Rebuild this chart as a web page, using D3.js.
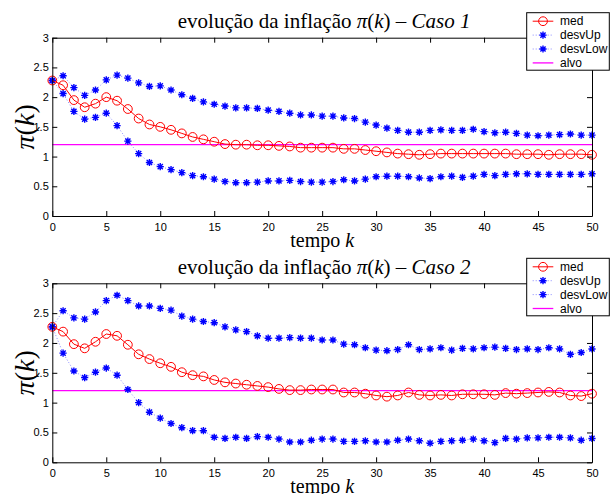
<!DOCTYPE html>
<html>
<head>
<meta charset="utf-8">
<script src="https://cdn.jsdelivr.net/npm/d3@7"></script>
<style>
  body { margin:0; background:#fff; }
  #chart { width:610px; height:494px; }
  .tick text { font-family: "Liberation Sans", Arial, sans-serif; font-size:11px; fill:#000; }
  .serif { font-family: "Liberation Serif", "Times New Roman", serif; fill:#000; }
</style>
</head>
<body>
<div id="chart"></div>
<script>
// tempo k
var tempo = d3.range(0, 51)

// Caso 1
var med1 = [2.28,2.20,1.95,1.83,1.89,2.00,1.94,1.80,1.64,1.54,1.50,1.45,1.39,1.33,1.29,1.25,1.21,1.20,1.20,1.19,1.19,1.18,1.17,1.15,1.15,1.15,1.15,1.13,1.13,1.11,1.09,1.07,1.05,1.04,1.03,1.04,1.05,1.05,1.05,1.05,1.05,1.05,1.05,1.04,1.04,1.04,1.03,1.04,1.04,1.04,1.03]
var desvUp1 = [2.28,2.36,2.16,2.03,2.12,2.29,2.37,2.32,2.24,2.18,2.19,2.12,2.04,1.98,1.92,1.88,1.85,1.82,1.82,1.81,1.78,1.76,1.73,1.70,1.70,1.68,1.68,1.65,1.64,1.58,1.53,1.48,1.44,1.41,1.41,1.44,1.45,1.44,1.44,1.46,1.42,1.40,1.41,1.39,1.36,1.35,1.36,1.37,1.38,1.36,1.36]
var desvLow1 = [2.28,2.06,1.76,1.63,1.66,1.73,1.52,1.26,1.05,0.90,0.83,0.78,0.73,0.68,0.66,0.62,0.58,0.56,0.56,0.57,0.59,0.59,0.60,0.58,0.57,0.57,0.58,0.61,0.59,0.62,0.66,0.67,0.67,0.66,0.64,0.63,0.66,0.67,0.65,0.67,0.70,0.68,0.70,0.71,0.71,0.70,0.70,0.70,0.70,0.70,0.71]

// Caso 2
var med2 = [2.27,2.19,1.98,1.91,2.02,2.15,2.12,1.97,1.81,1.73,1.66,1.60,1.51,1.46,1.44,1.38,1.34,1.32,1.30,1.28,1.26,1.23,1.21,1.21,1.22,1.22,1.22,1.17,1.17,1.15,1.12,1.10,1.12,1.17,1.13,1.12,1.13,1.12,1.14,1.14,1.14,1.13,1.16,1.15,1.16,1.17,1.18,1.17,1.12,1.11,1.15]
var desvUp2 = [2.27,2.54,2.42,2.40,2.52,2.71,2.80,2.71,2.62,2.62,2.58,2.55,2.45,2.40,2.36,2.34,2.27,2.22,2.19,2.12,2.08,2.08,2.09,2.08,2.08,2.05,2.05,1.98,1.97,1.92,1.88,1.87,1.89,1.97,1.89,1.90,1.92,1.88,1.91,1.90,1.92,1.93,1.91,1.89,1.90,1.89,1.92,1.90,1.81,1.84,1.90]
var desvLow2 = [2.27,1.83,1.53,1.42,1.51,1.58,1.46,1.22,1.00,0.84,0.74,0.65,0.58,0.53,0.53,0.42,0.40,0.42,0.40,0.43,0.42,0.39,0.34,0.34,0.37,0.39,0.39,0.35,0.35,0.36,0.34,0.34,0.37,0.39,0.36,0.32,0.35,0.36,0.37,0.39,0.36,0.33,0.40,0.39,0.41,0.41,0.42,0.42,0.41,0.37,0.40]

var alvo = 1.2
var casos = ["Caso 1", "Caso 2"]
var legendNames = ["med", "desvUp", "desvLow", "alvo"]
var xTicks = [0, 5, 10, 15, 20, 25, 30, 35, 40, 45, 50]
var yTicks = [0, 0.5, 1, 1.5, 2, 2.5, 3]

!(function(){
    "use strict"

    var width = 610, height = 494
    var svg = d3.select("#chart").append("svg")
        .attr("width", width).attr("height", height)

    // axes boxes (pixel frames of the two subplots)
    var panels = [
        {top:37.7, bottom:216, caso:casos[0], med:med1, up:desvUp1, low:desvLow1},
        {top:283.3, bottom:462.3, caso:casos[1], med:med2, up:desvUp2, low:desvLow2}
    ]
    var left = 52.3, right = 592

    panels.forEach(drawPanel)

    function star(r) {
        var a = r * 0.72
        return "M"+(-r)+",0L"+r+",0M0,"+(-r)+"L0,"+r+
               "M"+(-a)+","+(-a)+"L"+a+","+a+"M"+(-a)+","+a+"L"+a+","+(-a)
    }

    function drawPanel(p) {
        var x = d3.scaleLinear().domain([0, 50]).range([left, right])
        var y = d3.scaleLinear().domain([0, 3]).range([p.bottom, p.top])
        var g = svg.append("g")

        // alvo
        g.append("path")
            .attr("d", d3.line()([[x(0), y(alvo)], [x(50), y(alvo)]]))
            .attr("stroke", "#ff00ff").attr("stroke-width", 1.3).attr("fill", "none")

        // desvio lines (dotted) + asterisks
        ;[p.up, p.low].forEach(function(s) {
            g.append("path")
                .datum(s)
                .attr("d", d3.line().x(function(d, i){ return x(tempo[i]) }).y(function(d){ return y(d) }))
                .attr("fill", "none")
                .attr("stroke", "#6f6fff")
                .attr("stroke-width", 0.8)
                .attr("stroke-dasharray", "1,2")
            g.selectAll(null)
                .data(s)
                .enter().append("path")
                .attr("transform", function(d, i){ return "translate("+[x(tempo[i]), y(d)]+")" })
                .attr("d", star(3.6))
                .attr("stroke", "#0000ff").attr("stroke-width", 1.4).attr("fill", "none")
        })

        // med
        g.append("path")
            .datum(p.med)
            .attr("d", d3.line().x(function(d, i){ return x(tempo[i]) }).y(function(d){ return y(d) }))
            .attr("fill", "none").attr("stroke", "#ff0000").attr("stroke-width", 1)
        g.selectAll(null)
            .data(p.med)
            .enter().append("circle")
            .attr("cx", function(d, i){ return x(tempo[i]) })
            .attr("cy", function(d){ return y(d) })
            .attr("r", 4.4)
            .attr("fill", "none").attr("stroke", "#ff0000").attr("stroke-width", 1)

        // axes, ticks inside like matlab
        g.append("g").attr("transform", "translate(0,"+p.bottom+")")
            .call(d3.axisBottom(x).tickValues(xTicks).tickSize(-5).tickSizeOuter(0).tickPadding(7))
        g.append("g").attr("transform", "translate(0,"+p.top+")")
            .call(d3.axisTop(x).tickValues(xTicks).tickSize(-5).tickSizeOuter(0).tickFormat(""))
        g.append("g").attr("transform", "translate("+left+",0)")
            .call(d3.axisLeft(y).tickValues(yTicks).tickSize(-5).tickSizeOuter(0).tickPadding(3.5).tickFormat(d3.format("")))
        g.append("g").attr("transform", "translate("+right+",0)")
            .call(d3.axisRight(y).tickValues(yTicks).tickSize(-5).tickSizeOuter(0).tickFormat(""))
        g.selectAll(".domain, .tick line").attr("stroke", "#000").attr("stroke-width", 1)

        // title
        var t = g.append("text").attr("class", "serif")
            .attr("x", (left+right)/2 + 2).attr("y", p.top - 9.5)
            .attr("text-anchor", "middle").style("font-size", "21px")
        t.append("tspan").text("evolução da inflação ")
        t.append("tspan").style("font-style", "italic").text("π")
        t.append("tspan").text("(")
        t.append("tspan").style("font-style", "italic").text("k")
        t.append("tspan").text(")  –  ")
        t.append("tspan").style("font-style", "italic").text(p.caso)

        // xlabel
        var xl = g.append("text").attr("class", "serif")
            .attr("x", (left+right)/2).attr("y", p.bottom + 30.5)
            .attr("text-anchor", "middle").style("font-size", "20px")
        xl.append("tspan").text("tempo ")
        xl.append("tspan").style("font-style", "italic").text("k")

        // ylabel
        var yl = g.append("text").attr("class", "serif")
            .attr("transform", "translate(34,"+((p.top+p.bottom)/2)+") rotate(-90)")
            .attr("text-anchor", "middle").style("font-size", "28px")
        yl.append("tspan").style("font-style", "italic").text("π")
        yl.append("tspan").text("(")
        yl.append("tspan").style("font-style", "italic").text("k")
        yl.append("tspan").text(")")

        drawLegend(g, p.top - 25)
    }

    function drawLegend(g, top) {
        var lg = g.append("g").attr("transform", "translate(526.7,"+top+")")
        lg.append("rect")
            .attr("width", 82.6).attr("height", 57.5)
            .attr("fill", "#fff").attr("stroke", "#000").attr("stroke-width", 1)

        var row = lg.selectAll(".row")
            .data(legendNames)
            .enter().append("g").classed("row", true)
            .attr("transform", function(d, i){ return "translate(0,"+(8.5 + i*13.9)+")" })

        row.append("path")
            .attr("d", "M6,0L26.6,0")
            .attr("fill", "none")
            .attr("stroke", function(d){ return d == "med" ? "#ff0000" : d == "alvo" ? "#ff00ff" : "#6f6fff" })
            .attr("stroke-width", function(d){ return d == "alvo" ? 1.3 : d == "med" ? 1 : 0.8 })
            .attr("stroke-dasharray", function(d){ return d.indexOf("desv") == 0 ? "1,2" : null })

        row.filter(function(d){ return d == "med" }).append("circle")
            .attr("cx", 16.3).attr("r", 4.4)
            .attr("fill", "none").attr("stroke", "#ff0000")
        row.filter(function(d){ return d.indexOf("desv") == 0 }).append("path")
            .attr("transform", "translate(16.3,0)")
            .attr("d", star(3.6))
            .attr("stroke", "#0000ff").attr("stroke-width", 1.4).attr("fill", "none")

        row.append("text")
            .attr("x", 33.3).attr("dy", "0.35em")
            .style("font-family", "'Liberation Sans', Arial, sans-serif")
            .style("font-size", "12px")
            .text(function(d){ return d })
    }
}());
</script>
</body>
</html>
